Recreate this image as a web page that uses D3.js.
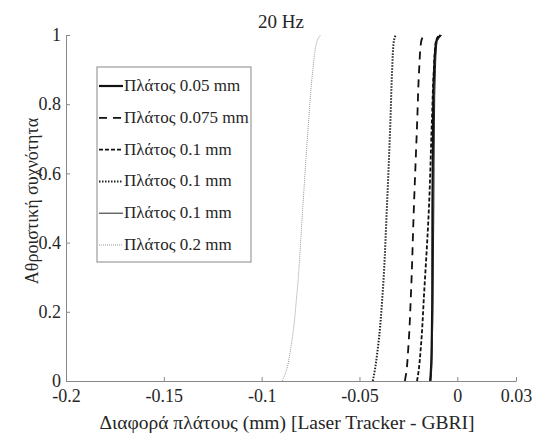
<!DOCTYPE html>
<html>
<head>
<meta charset="utf-8">
<script src="https://cdn.jsdelivr.net/npm/d3@7"></script>
<style>
  body { margin: 0; background: #fff; }
  svg { display: block; font-family: "Liberation Serif", "DejaVu Serif", serif; }
</style>
</head>
<body>
<script>
// cumulative frequency levels (y) shared by every curve
var probs = [0, 0.02, 0.1, 0.25, 0.5, 0.75, 0.9, 0.98, 1];

// difference values (x) for each series
var amp005  = [-0.0139, -0.0136, -0.0131, -0.0128, -0.0127, -0.0124, -0.0118, -0.0108, -0.0085];
var amp0075 = [-0.0268, -0.0262, -0.0250, -0.0237, -0.0222, -0.0205, -0.0195, -0.0185, -0.0172];
var amp01a  = [-0.0206, -0.0200, -0.0186, -0.0170, -0.0145, -0.0130, -0.0120, -0.0110, -0.0095];
var amp01b  = [-0.0432, -0.0425, -0.0405, -0.0382, -0.0360, -0.0342, -0.0333, -0.0325, -0.0315];
var amp01c  = [-0.0135, -0.0132, -0.0128, -0.0124, -0.0120, -0.0117, -0.0112, -0.0104, -0.0080];
var amp02   = [-0.0895, -0.0880, -0.0850, -0.0820, -0.0790, -0.0760, -0.0738, -0.0718, -0.0700];

var legendNames = ["Πλάτος 0.05 mm", "Πλάτος 0.075 mm", "Πλάτος 0.1 mm",
                   "Πλάτος 0.1 mm", "Πλάτος 0.1 mm", "Πλάτος 0.2 mm"];
var xTicks = [-0.2, -0.15, -0.1, -0.05, 0, 0.03];
var yTicks = [0, 0.2, 0.4, 0.6, 0.8, 1];

var w = 540, h = 437;
var mLeft = 66, mRight = 516, mTop = 35, mBottom = 381;

var series = [
  {vals: amp005,  color: "#111", width: 2.2, dash: null},
  {vals: amp0075, color: "#111", width: 1.8, dash: "8,6"},
  {vals: amp01a,  color: "#111", width: 1.8, dash: "4,2"},
  {vals: amp01b,  color: "#222", width: 2,   dash: "1.5,1.5"},
  {vals: amp01c,  color: "#222", width: 1,   dash: null},
  {vals: amp02,   color: "#999", width: 1,   dash: "1,1"}
];

var xScale = d3.scaleLinear().domain([-0.2, 0.03]).range([mLeft, mRight]);
var yScale = d3.scaleLinear().domain([0, 1]).range([mBottom, mTop]);

var svg = d3.select("body").append("svg")
  .attr("width", w).attr("height", h);

// axes (ticks point inward like the original)
var xAxis = d3.axisBottom(xScale).tickValues(xTicks).tickSizeInner(-4).tickSizeOuter(0)
  .tickPadding(10).tickFormat(function(d){ return d === 0 ? "0" : String(d); });
var yAxis = d3.axisLeft(yScale).tickValues(yTicks).tickSizeInner(-4).tickSizeOuter(0)
  .tickPadding(5).tickFormat(function(d){ return String(d); });

var gx = svg.append("g").attr("transform", "translate(0," + mBottom + ")").call(xAxis);
var gy = svg.append("g").attr("transform", "translate(" + mLeft + ",0)").call(yAxis);
[gx, gy].forEach(function(g){
  g.select(".domain").attr("stroke", "#888");
  g.selectAll(".tick line").attr("stroke", "#888");
  g.selectAll(".tick text").attr("fill", "#262626")
    .attr("font-family", "Liberation Serif").attr("font-size", "18px");
});
gx.selectAll(".tick text").attr("dy", "0.6em");

// curves
var line = d3.line()
  .x(function(d){ return xScale(d[0]); })
  .y(function(d){ return yScale(d[1]); })
  .curve(d3.curveMonotoneY);

series.forEach(function(s){
  var pts = s.vals.map(function(v, i){ return [v, probs[i]]; });
  svg.append("path")
    .attr("d", line(pts))
    .attr("fill", "none")
    .attr("stroke", s.color)
    .attr("stroke-width", s.width)
    .attr("stroke-dasharray", s.dash);
});

// titles
svg.append("text").attr("x", 281).attr("y", 28).attr("text-anchor", "middle")
  .attr("font-size", "19px").attr("fill", "#262626").text("20 Hz");
svg.append("text").attr("x", 287).attr("y", 429).attr("text-anchor", "middle")
  .attr("font-size", "19.5px").attr("fill", "#262626")
  .text("Διαφορά πλάτους (mm) [Laser Tracker - GBRI]");
svg.append("text").attr("transform", "translate(32,201) rotate(-90)")
  .attr("text-anchor", "middle").attr("dy", "0.35em")
  .attr("font-size", "18px").attr("fill", "#262626")
  .text("Αθροιστική συχνότητα");

// legend
var lg = svg.append("g");
lg.append("rect").attr("x", 97).attr("y", 67).attr("width", 154).attr("height", 195)
  .attr("fill", "#fff").attr("stroke", "#888").attr("stroke-width", 1);
series.forEach(function(s, i){
  var yy = 86 + i * 31.8;
  lg.append("line").attr("x1", 99).attr("x2", 123).attr("y1", yy).attr("y2", yy)
    .attr("stroke", s.color).attr("stroke-width", s.width)
    .attr("stroke-dasharray", s.dash);
  lg.append("text").attr("x", 124).attr("y", yy + 5).attr("font-size", "17px")
    .attr("fill", "#262626").text(legendNames[i]);
});
</script>
</body>
